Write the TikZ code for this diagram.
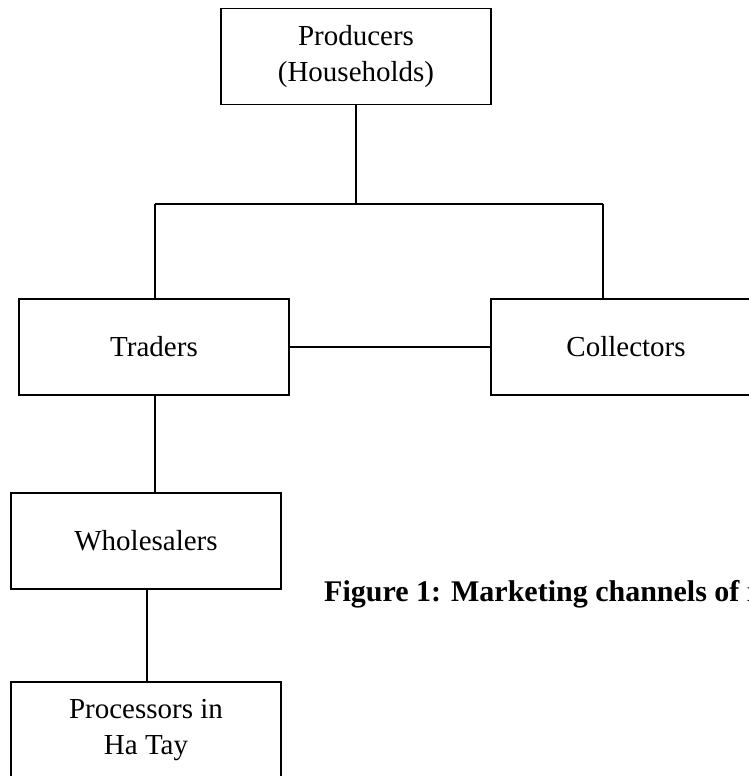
\documentclass[tikz,border=0pt]{standalone}
\usepackage{fontspec}
\setmainfont{Liberation Serif}
\begin{document}
\begin{tikzpicture}[x=1pt,y=-1pt,
  box/.style={draw,line width=1.3pt,minimum width=270pt,minimum height=96pt,
    align=center,inner sep=0pt,font=\fontsize{29}{36}\selectfont},
  link/.style={line width=1.3pt},
  captext/.style={font=\fontsize{30}{36}\selectfont\bfseries,inner sep=0pt,anchor=west}]
\useasboundingbox (0,0) rectangle (749,776);
\clip (0,0) rectangle (749,776);
\node[box] (prod) at (356,56.5) {Producers\\(Households)};
\node[box] (trad) at (154,347) {Traders};
\node[box] (coll) at (626,347) {Collectors};
\node[box] (whol) at (146,541) {Wholesalers};
\node[box] (proc) at (146,730) {Processors in\\Ha Tay};
\node[captext] (cap) at (324,594) {Figure 1: Marketing channels of r};
\coordinate (jl) at (155,204);
\coordinate (jr) at (603,204);
\coordinate (jm) at (356,204);
\draw[link] (prod.south) -- (jm);
\draw[link] (jl) -- (jr);
\draw[link] (jl) -- (jl |- trad.north);
\draw[link] (jr) -- (jr |- coll.north);
\draw[link] (trad.east) -- (coll.west);
\draw[link] (155,395) coordinate (t1) -- (155,493) coordinate (t2);
\draw[link] (whol.south -| 147,0) -- (proc.north -| 147,0);
\end{tikzpicture}
\end{document}
